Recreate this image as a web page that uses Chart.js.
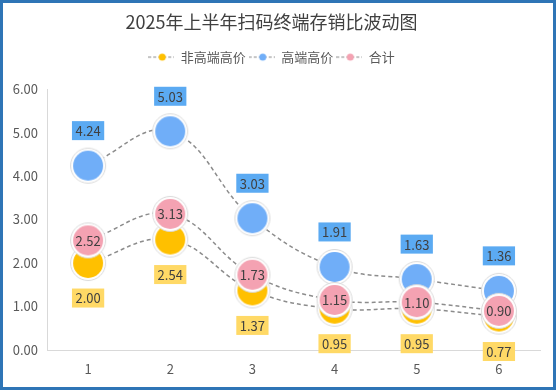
<!DOCTYPE html>
<html>
<head>
<meta charset="utf-8">
<script src="https://cdn.jsdelivr.net/npm/chart.js@4"></script>
<style>
  html, body { margin: 0; padding: 0; background: #fff; }
  .frame { width: 550px; height: 384px; border: 3px solid #2E75B6; }
  .frame div { position: relative; width: 550px; height: 384px; }
</style>
</head>
<body>
<div class="frame"><div><canvas id="chart"></canvas></div></div>
<script>
// chart data
const months = ["1", "2", "3", "4", "5", "6"];
const lowEnd = [2.00, 2.54, 1.37, 0.95, 0.95, 0.77];   // 非高端高价
const highEnd = [4.24, 5.03, 3.03, 1.91, 1.63, 1.36];  // 高端高价
const total = [2.52, 3.13, 1.73, 1.15, 1.10, 0.90];    // 合计
const yTicks = [0, 1, 2, 3, 4, 5, 6];

const FONT = '"Microsoft YaHei", "Noto Sans CJK SC", sans-serif';

// round marker with white ring + faint grey outline
function makeMarker(color) {
  const c = document.createElement("canvas");
  c.width = 38; c.height = 38;
  const ctx = c.getContext("2d");
  ctx.beginPath();
  ctx.arc(19, 19, 17.5, 0, Math.PI * 2);
  ctx.fillStyle = "#fff";
  ctx.fill();
  ctx.strokeStyle = "#D9D9D9";
  ctx.lineWidth = 1;
  ctx.stroke();
  ctx.beginPath();
  ctx.arc(19, 19, 15, 0, Math.PI * 2);
  ctx.fillStyle = color;
  ctx.fill();
  return c;
}

// legend symbol: dashed line with a small dot
function makeLegendIcon(color) {
  const c = document.createElement("canvas");
  c.width = 26; c.height = 10;
  const ctx = c.getContext("2d");
  ctx.strokeStyle = "#8C8C8C";
  ctx.lineWidth = 1.2;
  ctx.setLineDash([3, 2]);
  ctx.beginPath();
  ctx.moveTo(0, 5);
  ctx.lineTo(26, 5);
  ctx.stroke();
  ctx.beginPath();
  ctx.arc(14, 5, 3.5, 0, Math.PI * 2);
  ctx.fillStyle = color;
  ctx.fill();
  return c;
}

const seriesColors = ["#FFC000", "#70AEF8", "#F4A2B2"];
const labelBoxColors = ["#FFD966", "#5BAAF2", null];

// extra space under the legend
const legendGap = {
  id: "legendGap",
  beforeInit(chart) {
    if (!chart.legend) return;
    const fit = chart.legend.fit;
    chart.legend.fit = function () {
      fit.call(this);
      this.height += 15.5;
    };
  },
};

// value labels: boxes above/below, plain text inside for 合计
const valueLabels = {
  id: "valueLabels",
  afterDatasetsDraw(chart) {
    const ctx = chart.ctx;
    ctx.save();
    ctx.font = "13px " + FONT;
    ctx.textAlign = "center";
    ctx.textBaseline = "middle";
    chart.data.datasets.forEach((ds, i) => {
      const meta = chart.getDatasetMeta(i);
      meta.data.forEach((pt, j) => {
        const text = ds.data[j].toFixed(2);
        let y = pt.y;
        if (i === 0) y = pt.y + 35;
        if (i === 1) y = pt.y - 35;
        const box = labelBoxColors[i];
        if (box) {
          const w = ctx.measureText(text).width + 7;
          ctx.fillStyle = box;
          ctx.fillRect(pt.x - w / 2, y - 9.5, w, 19);
        }
        ctx.fillStyle = "#404040";
        ctx.fillText(text, pt.x, y + 0.5);
      });
    });
    ctx.restore();
  },
};

const names = ["非高端高价", "高端高价", "合计"];
const seriesData = [lowEnd, highEnd, total];

new Chart(document.getElementById("chart"), {
  type: "line",
  data: {
    labels: months,
    datasets: seriesData.map((values, i) => ({
      label: names[i],
      data: values,
      borderColor: "#8C8C8C",
      borderWidth: 1.5,
      borderDash: [4, 3],
      tension: 0.4,
      pointStyle: makeMarker(seriesColors[i]),
      legendIcon: makeLegendIcon(seriesColors[i]),
      order: 3 - i,
    })),
  },
  options: {
    responsive: true,
    maintainAspectRatio: false,
    animation: false,
    layout: { padding: { left: 0, right: 13, top: 0, bottom: 0 } },
    plugins: {
      title: {
        display: true,
        text: "2025年上半年扫码终端存销比波动图",
        color: "#404040",
        font: { family: FONT, size: 18, weight: "normal" },
        padding: { top: 8, bottom: 15 },
      },
      legend: {
        display: true,
        labels: {
          usePointStyle: true,
          pointStyleWidth: 26,
          padding: 3,
          color: "#595959",
          font: { family: FONT, size: 13 },
          generateLabels(chart) {
            return chart.data.datasets.map((ds, i) => ({
              text: ds.label,
              pointStyle: ds.legendIcon,
              fontColor: "#595959",
              lineWidth: 0,
              datasetIndex: i,
            }));
          },
        },
      },
      tooltip: { enabled: false },
    },
    scales: {
      x: {
        offset: true,
        grid: { display: false, drawTicks: false },
        border: { display: true, color: "#D9D9D9" },
        ticks: { color: "#595959", padding: 11, font: { family: FONT, size: 13 } },
        afterFit(scale) { scale.height = 37; },
      },
      y: {
        min: yTicks[0],
        max: yTicks[yTicks.length - 1],
        grid: { display: false, drawTicks: false },
        border: { display: true, color: "#D9D9D9" },
        afterBuildTicks(scale) {
          scale.ticks = yTicks.map((v) => ({ value: v }));
        },
        ticks: {
          color: "#595959",
          padding: 9,
          font: { family: FONT, size: 13 },
          callback: (v) => Number(v).toFixed(2),
        },
        afterFit(scale) { scale.width = 44; },
      },
    },
  },
  plugins: [legendGap, valueLabels],
});
</script>
</body>
</html>
